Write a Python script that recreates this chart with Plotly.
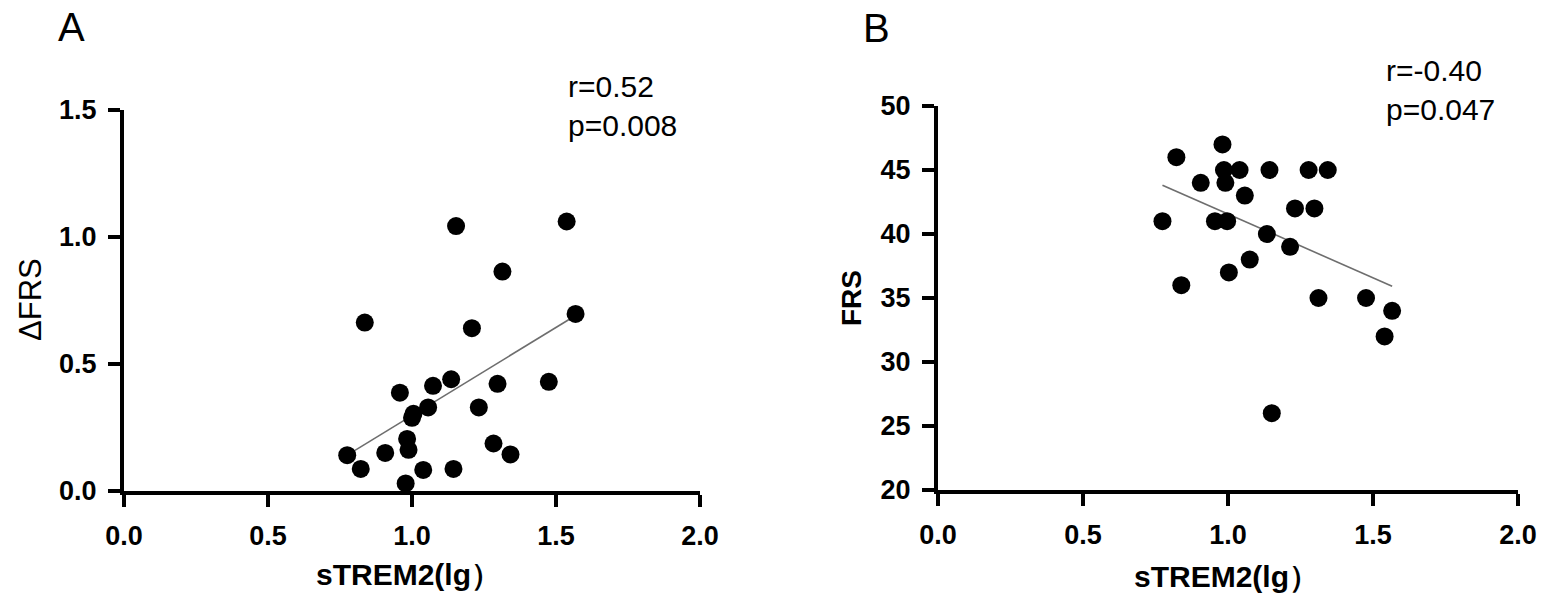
import numpy as np
import plotly.graph_objects as go

W, H = 1547, 605

# ---- data ----
sTREM2_A = [0.775, 0.822, 0.836, 0.907, 0.958, 0.978, 0.983, 0.988, 1.000, 1.005,
            1.039, 1.056, 1.073, 1.136, 1.144, 1.153, 1.208, 1.232, 1.283, 1.297,
            1.314, 1.342, 1.475, 1.537, 1.568]
dFRS = [0.141, 0.087, 0.663, 0.150, 0.387, 0.030, 0.205, 0.162, 0.288, 0.304,
        0.083, 0.329, 0.414, 0.440, 0.087, 1.043, 0.641, 0.329, 0.187, 0.422,
        0.864, 0.144, 0.430, 1.061, 0.697]

sTREM2_B = [0.774, 0.822, 0.839, 0.906, 0.955, 0.981, 0.986, 0.991, 0.997, 1.003,
            1.040, 1.058, 1.075, 1.134, 1.143, 1.151, 1.214, 1.231, 1.278, 1.298,
            1.312, 1.344, 1.476, 1.540, 1.566]
FRS = [41, 46, 36, 44, 41, 47, 45, 44, 41, 37,
       45, 43, 38, 40, 45, 26, 39, 42, 45, 42,
       35, 45, 35, 32, 34]

x_ticks = [0.0, 0.5, 1.0, 1.5, 2.0]
x_ticklabels = ["0.0", "0.5", "1.0", "1.5", "2.0"]
yA_ticks = [0.0, 0.5, 1.0, 1.5]
yA_ticklabels = ["0.0", "0.5", "1.0", "1.5"]
yB_ticks = [20, 25, 30, 35, 40, 45, 50]
yB_ticklabels = ["20", "25", "30", "35", "40", "45", "50"]

stats_A = "r=0.52<br>p=0.008"
stats_B = "r=-0.40<br>p=0.047"
x_title = "sTREM2(lg）"
yA_title = "ΔFRS"
yB_title = "FRS"


def fit_line(x, y):
    k, b = np.polyfit(x, y, 1)
    xs = np.array([min(x), max(x)])
    return xs, k * xs + b


FONT = "Liberation Sans, Arial, sans-serif"

fig = go.Figure()
for xs, ys, xa, ya in [(sTREM2_A, dFRS, "x", "y"), (sTREM2_B, FRS, "x2", "y2")]:
    lx, ly = fit_line(xs, ys)
    fig.add_trace(go.Scatter(x=lx, y=ly, mode="lines", xaxis=xa, yaxis=ya,
                             line=dict(color="#6e6e6e", width=1.6),
                             showlegend=False, hoverinfo="skip"))
    fig.add_trace(go.Scatter(x=xs, y=ys, mode="markers", xaxis=xa, yaxis=ya,
                             marker=dict(color="black", size=18, line=dict(width=0)),
                             showlegend=False, cliponaxis=False))


def px(x):
    return x / W


def py(y):
    return 1 - y / H


axis_common = dict(showline=True, linecolor="black", linewidth=4, ticks="outside",
                   ticklen=12, tickwidth=3.5, tickcolor="black", showgrid=False,
                   zeroline=False, automargin=False,
                   tickfont=dict(family=FONT, size=27, color="black", weight="bold"))

fig.update_layout(
    width=W, height=H,
    margin=dict(l=0, r=0, t=0, b=0),
    paper_bgcolor="white", plot_bgcolor="white",
    xaxis=dict(domain=[px(124), px(700)], range=[0, 2], tickvals=x_ticks,
               ticktext=x_ticklabels, anchor="y", ticklabelstandoff=6, **axis_common),
    yaxis=dict(domain=[py(491), py(110)], range=[0, 1.5], tickvals=yA_ticks,
               ticktext=yA_ticklabels, anchor="x", ticklabelstandoff=6, **axis_common),
    xaxis2=dict(domain=[px(938), px(1518)], range=[0, 2], tickvals=x_ticks,
                ticktext=x_ticklabels, anchor="y2", ticklabelstandoff=6, **axis_common),
    yaxis2=dict(domain=[py(490), py(106)], range=[20, 50], tickvals=yB_ticks,
                ticktext=yB_ticklabels, anchor="x2", ticklabelstandoff=6, **axis_common),
)

ann = []
# panel letters
ann.append(dict(text="A", x=px(56), y=py(27), xanchor="left", yanchor="middle",
                font=dict(family=FONT, size=40, color="black")))
ann.append(dict(text="B", x=px(861), y=py(28), xanchor="left", yanchor="middle",
                font=dict(family=FONT, size=40, color="black")))
# stats
ann.append(dict(text=stats_A, x=px(566), y=py(106), xanchor="left", yanchor="middle",
                align="left", font=dict(family=FONT, size=30, color="black")))
ann.append(dict(text=stats_B, x=px(1384), y=py(90), xanchor="left", yanchor="middle",
                align="left", font=dict(family=FONT, size=30, color="black")))
# axis titles
ann.append(dict(text=x_title, x=px(408), y=py(574), xanchor="center", yanchor="middle",
                font=dict(family=FONT, size=30, color="black", weight="bold")))
ann.append(dict(text=x_title, x=px(1226), y=py(576), xanchor="center", yanchor="middle",
                font=dict(family=FONT, size=30, color="black", weight="bold")))
ann.append(dict(text=yA_title, x=px(30), y=py(300), xanchor="center", yanchor="middle",
                textangle=-90, font=dict(family=FONT, size=31, color="black")))
ann.append(dict(text=yB_title, x=px(851), y=py(298), xanchor="center", yanchor="middle",
                textangle=-90, font=dict(family=FONT, size=28, color="black", weight="bold")))
for a in ann:
    a.update(xref="paper", yref="paper", showarrow=False)
fig.update_layout(annotations=ann)

fig.write_html("out.html", config={"displayModeBar": False},
               post_script="document.body.style.margin='0';document.body.style.overflow='hidden';")
